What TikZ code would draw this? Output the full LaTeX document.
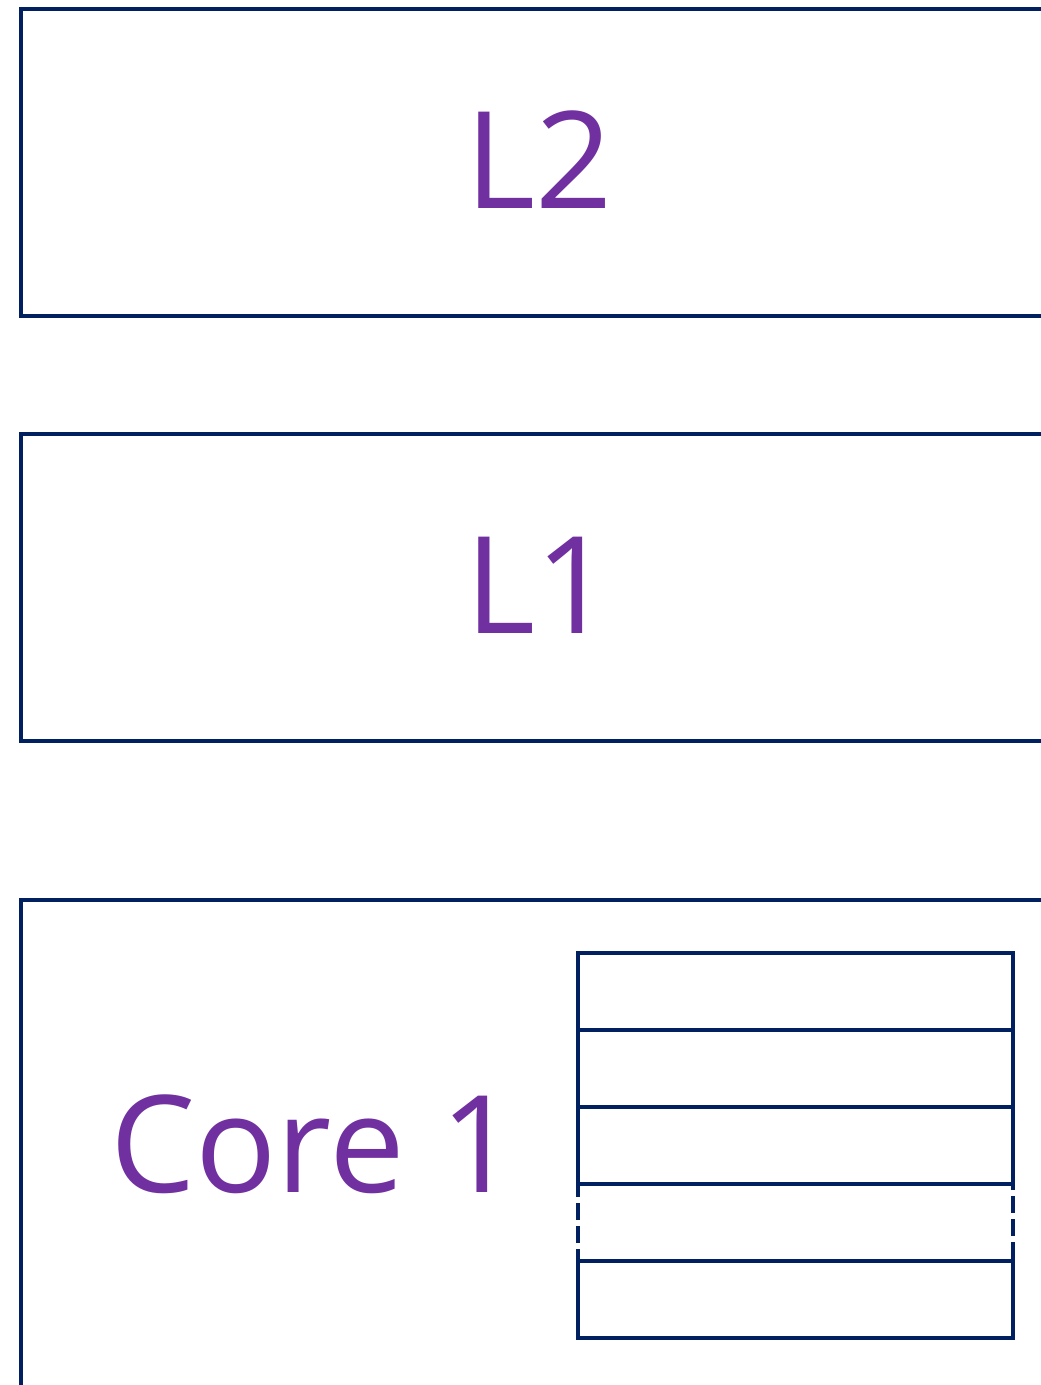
\documentclass[tikz,border=0pt]{standalone}
\usepackage{fontspec}
\setmainfont{Open Sans}
\definecolor{navy}{HTML}{002060}
\definecolor{lilac}{HTML}{7030A0}
\tikzset{
    levelbox/.style={draw=navy, line width=4.8pt, rectangle, inner sep=0pt, outer sep=0pt, anchor=north west, minimum width=1150pt},
    levellabel/.style={text=lilac, inner sep=0pt, anchor=base west, font=\fontsize{135}{160}\selectfont},
    cellbox/.style={draw=navy, line width=4.8pt, rectangle, inner sep=0pt, outer sep=0pt, anchor=north west, minimum width=435pt, minimum height=77pt}
}
\begin{document}
\begin{tikzpicture}[x=1pt, y=-1pt]
    \useasboundingbox (0,0) rectangle (1041,1385);
    \clip (0,0) rectangle (1041,1385);

    \node (l2box) [levelbox, minimum height=307pt] at (21,9) {};
    \node (l1box) [levelbox, minimum height=307pt] at (21,434) {};
    \node (corebox) [levelbox, minimum height=600pt] at (21,900) {};

    \node (l2) [levellabel] at (465,208) {L2};
    \node (l1) [levellabel] at (465,633) {L1};
    \node (core) [levellabel] at (110,1192) {Core 1};

    \foreach \i in {0,1,2,4}
        \node (cell\i) [cellbox] at (578,953+77*\i) {};
    \node (cell3) [cellbox, dash pattern=on 17pt off 6pt] at (578,953+77*3) {};
\end{tikzpicture}
\end{document}
